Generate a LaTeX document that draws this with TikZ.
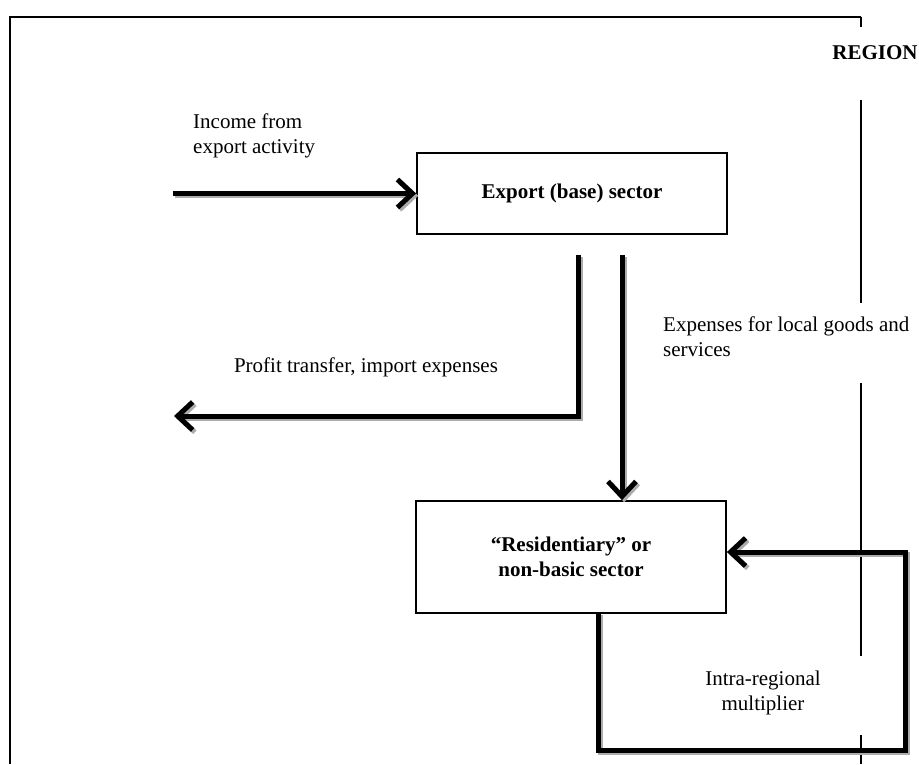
\documentclass[tikz,border=0pt]{standalone}
\usepackage{fontspec}
\setmainfont{Liberation Serif}
\usetikzlibrary{arrows.meta}
\tikzset{
  sectorbox/.style={draw=black, line width=1.8pt, fill=white, align=center,
    font=\fontsize{21}{25}\selectfont\bfseries, inner sep=0pt},
  plaintext/.style={inner sep=0pt, font=\fontsize{21}{25}\selectfont},
  frameline/.style={line width=2pt, black},
  regionline/.style={line width=1.3pt, black},
  flowline/.style={line width=5pt, black, line join=miter,
    -{Straight Barb[length=15pt,width=28pt]}},
  flowshadow/.style={line width=5pt, gray!65, line join=miter,
    -{Straight Barb[length=15pt,width=28pt]},
    transform canvas={shift={(2.2pt,-2.2pt)}}},
}
\newcommand\flowpath[1]{\draw[flowshadow] #1; \draw[flowline] #1;}
\begin{document}
\begin{tikzpicture}[x=1pt,y=-1pt]
\useasboundingbox (0,0) rectangle (919,764);
% frame
\draw[frameline] (9,16.7) -- (861,16.7);
\draw[regionline] (861,16.7) -- (861,27);
\draw[frameline] (10,16.7) -- (10,764);
\draw[regionline] (861,100) -- (861,303);
\draw[regionline] (861,383) -- (861,656);
\draw[regionline] (861,735) -- (861,764);
\node[plaintext, font=\fontsize{21}{25}\selectfont\bfseries] (region) at (875,53) {REGION};

% boxes
\node[sectorbox, minimum width=310pt, minimum height=81pt] (export) at (572,193.5) {Export (base) sector};
\node[sectorbox, minimum width=310pt, minimum height=112pt] (resident) at (571,557)
  {``Residentiary'' or\\non-basic sector};

% labels
\node[plaintext, anchor=west, align=left] (inclabel) at (193,135.5) {Income from\\export activity};
\node[plaintext] (proflabel) at (366,367) {Profit transfer, import expenses};
\node[plaintext, anchor=west, align=left] (explabel) at (663,336.5) {Expenses for local goods and\\services};
\node[plaintext, align=center] (intralabel) at (763,692.5) {Intra-regional\\multiplier};

% coordinates
\coordinate (incstart) at (173,193.5);
\coordinate (pstart) at (578,255);
\coordinate (pcorner) at (578,416);
\coordinate (pend) at (174,416);
\coordinate (dstart) at (622,255);
\coordinate (lstart) at (598,613);
\coordinate (l1) at (598,750);
\coordinate (l2) at (905,750);
\coordinate (l3) at (905,552);

% flows
\flowpath{(incstart) -- (export.west)}
\flowpath{(pstart) -- (pcorner) -- (pend)}
\flowpath{(dstart) -- (dstart |- resident.north)}
\flowpath{(lstart) -- (l1) -- (l2) -- (l3) -- (l3 -| resident.east)}
\end{tikzpicture}
\end{document}
